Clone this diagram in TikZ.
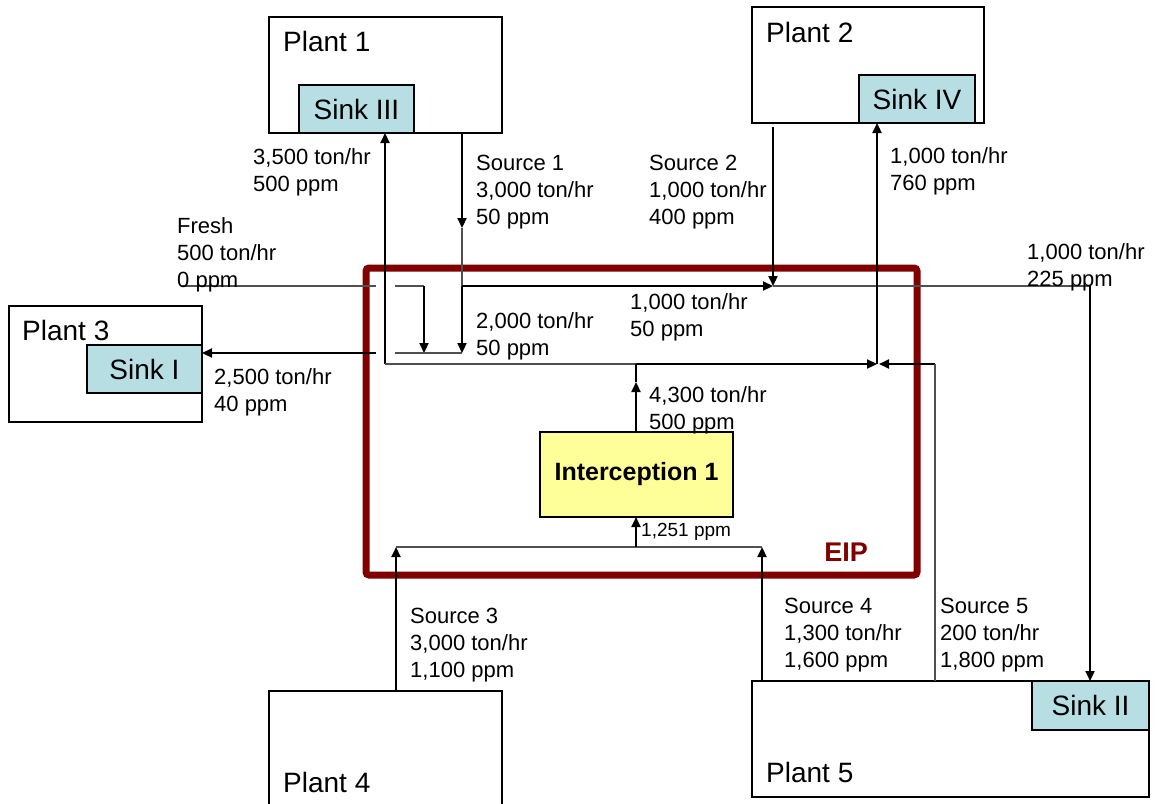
\documentclass[tikz,border=0pt]{standalone}
\usepackage{fontspec}
\setmainfont{Liberation Sans}
\usetikzlibrary{arrows.meta}
\definecolor{sinkblue}{RGB}{183,223,227}
\definecolor{intyellow}{RGB}{255,255,153}
\definecolor{eipred}{RGB}{128,0,0}
\definecolor{thingray}{RGB}{80,80,80}
\begin{document}
\begin{tikzpicture}[x=1pt,y=-1pt,
  box/.style={draw=black, line width=1.2pt, inner sep=0pt, outer sep=0pt, anchor=north west},
  plantbox/.style={box, fill=white},
  sinkbox/.style={box, fill=sinkblue, font=\fontsize{28}{30}\selectfont},
  lbl/.style={anchor=north west, inner sep=0pt, align=left, font=\fontsize{22}{27}\selectfont},
  big/.style={anchor=north west, inner sep=0pt, font=\fontsize{28}{30}\selectfont},
  light/.style={draw=thingray, line width=1.2pt},
  heavy/.style={draw=black, line width=2.2pt},
  flow/.style={heavy, -{Triangle[length=10pt,width=9pt]}},
]
\useasboundingbox (0,0) rectangle (1155,803);
\fill[white] (0,0) rectangle (1155,803);

% EIP boundary
\node[draw=eipred, line width=7pt, rounded corners=3pt, inner sep=0pt, outer sep=0pt, anchor=north west,
      minimum width=551pt, minimum height=307pt] (eip) at (366,268) {};
\node[font=\bfseries\fontsize{27}{30}\selectfont, text=eipred] (eiplbl) at (846,552) {EIP};

% plants and sinks
\node[plantbox, minimum width=233pt, minimum height=116pt] (p1) at (269,17) {};
\node[sinkbox, minimum width=115pt, minimum height=48pt] (sinkIII) at (299,85) {Sink III};
\node[big] (p1lbl) at (283,31) {Plant 1};

\node[plantbox, minimum width=232pt, minimum height=116pt] (p2) at (752,7) {};
\node[sinkbox, minimum width=116pt, minimum height=48pt] (sinkIV) at (859,75) {Sink IV};
\node[big] (p2lbl) at (766,22) {Plant 2};

\node[plantbox, minimum width=193pt, minimum height=116pt] (p3) at (9,306) {};
\node[sinkbox, minimum width=115pt, minimum height=48pt] (sinkI) at (87,345) {Sink I};
\node[big] (p3lbl) at (22,320) {Plant 3};

\node[plantbox, minimum width=233pt, minimum height=130pt] (p4) at (269,691) {};
\node[big] (p4lbl) at (283,772) {Plant 4};

\node[plantbox, minimum width=397pt, minimum height=116pt] (p5) at (752,681) {};
\node[sinkbox, minimum width=117pt, minimum height=49pt] (sinkII) at (1032,681) {Sink II};
\node[big] (p5lbl) at (766,762) {Plant 5};

% interception
\node[box, fill=intyellow, minimum width=193pt, minimum height=85pt,
      font=\bfseries\fontsize{25}{28}\selectfont] (int) at (540,432) {Interception 1};

% junction coordinates
\coordinate (fr0) at (182,286);
\coordinate (frA) at (376,286);
\coordinate (frB) at (395,286);
\coordinate (frC) at (424,286);
\coordinate (mixC) at (424,353);
\coordinate (mixA) at (376,353);
\coordinate (mixB) at (395,353);
\coordinate (s1a) at (462,133);
\coordinate (s1b) at (462,228);
\coordinate (s1c) at (462,286);
\coordinate (s1d) at (462,353);
\coordinate (s2a) at (773,127);
\coordinate (s2b) at (773,286);
\coordinate (s2c) at (1090,286);
\coordinate (r0) at (385,364);
\coordinate (r1) at (636,364);
\coordinate (r2) at (877,364);
\coordinate (r3) at (879,364);
\coordinate (r4) at (935,364);
\coordinate (o1) at (636,382);
\coordinate (b0) at (396,547);
\coordinate (b1) at (636,547);
\coordinate (b2) at (762,547);

% fresh water and mixing
\draw[light] (fr0) -- (frA);
\draw[light] (frB) -- (frC);
\draw[flow] (frC) -- (mixC);
\draw[light] (mixB) -- (s1d);
\draw[flow] (mixA) -- (sinkI.east |- mixA);

% source 1
\draw[flow] (s1a) -- (s1b);
\draw[light] (s1b) -- (s1c);
\draw[flow] (s1c) -- (s1d);
\draw[flow] (s1c) -- (s2b);

% source 2 and sink II
\draw[flow] (s2a) -- (s2b);
\draw[light] (s2b) -- (s2c);
\draw[flow] (s2c) -- (sinkII.north -| s2c);

% return line to sink III and sink IV
\draw[flow] (r0) -- (sinkIII.south -| r0);
\draw[light] (r0) -- (r1);
\draw[flow] (r1) -- (r2);
\draw[flow] (r4) -- (r3);
\draw[light] (r4) -- (p5.north -| r4);
\draw[flow] (r2) -- (sinkIV.south -| r2);

% interception output
\draw[heavy] (o1) -- (r1);
\draw[flow] (int.north -| o1) -- (o1);

% sources 3, 4 to interception
\draw[flow] (p4.north -| b0) -- (b0);
\draw[flow] (p5.north -| b2) -- (b2);
\draw[light] (b0) -- (b2);
\draw[flow] (b1) -- (int.south -| b1);

% labels
\node[lbl] (l1) at (253,148) {3,500 ton/hr\\500 ppm};
\node[lbl] (l2) at (476,155) {Source 1\\3,000 ton/hr\\50 ppm};
\node[lbl] (l3) at (649,155) {Source 2\\1,000 ton/hr\\400 ppm};
\node[lbl] (l4) at (890,147) {1,000 ton/hr\\760 ppm};
\node[lbl] (l5) at (177,217) {Fresh\\500 ton/hr\\0 ppm};
\node[lbl] (l6) at (1027,243) {1,000 ton/hr\\225 ppm};
\node[lbl] (l7) at (630,293) {1,000 ton/hr\\50 ppm};
\node[lbl] (l8) at (476,312) {2,000 ton/hr\\50 ppm};
\node[lbl] (l9) at (214,368) {2,500 ton/hr\\40 ppm};
\node[lbl] (l10) at (649,386) {4,300 ton/hr\\500 ppm};
\node[anchor=north west, inner sep=0pt, font=\fontsize{19}{22}\selectfont] (l11) at (641,523) {1,251 ppm};
\node[lbl] (l12) at (410,608) {Source 3\\3,000 ton/hr\\1,100 ppm};
\node[lbl] (l13) at (784,598) {Source 4\\1,300 ton/hr\\1,600 ppm};
\node[lbl] (l14) at (940,598) {Source 5\\200 ton/hr\\1,800 ppm};
\end{tikzpicture}
\end{document}
